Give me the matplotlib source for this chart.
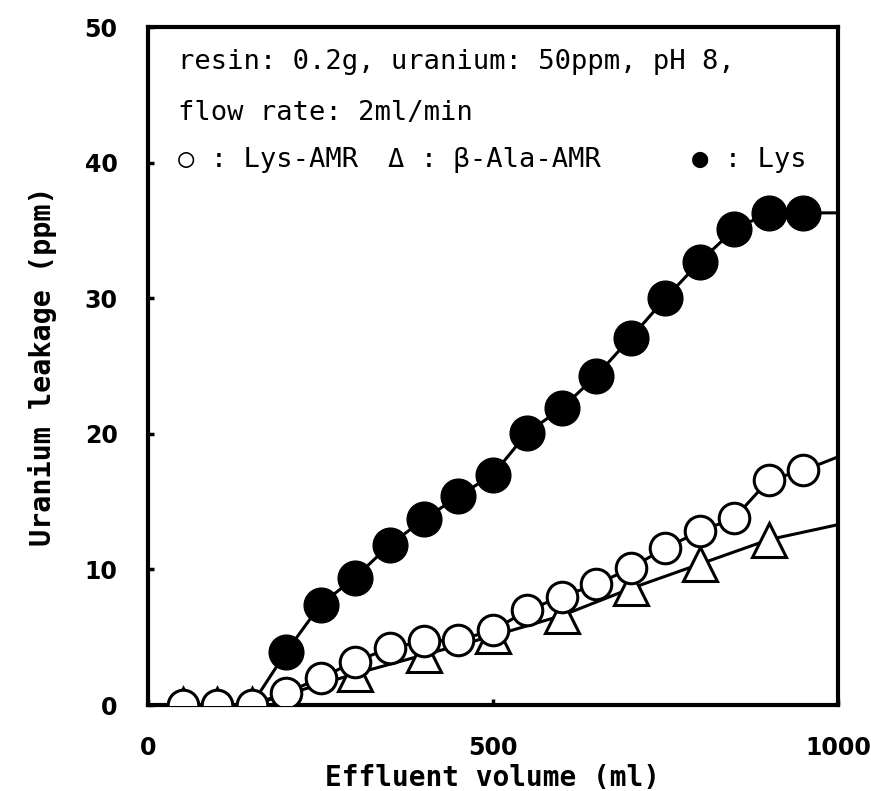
import matplotlib
matplotlib.use("Agg")
from matplotlib import pyplot as plt

# Lys (filled circles)
lys_x = [200, 250, 300, 350, 400, 450, 500, 550, 600, 650, 700, 750, 800, 850, 900, 950]
lys_y = [3.9, 7.4, 9.4, 11.8, 13.7, 15.4, 17.0, 20.1, 21.9, 24.3, 27.1, 30.0, 32.7, 35.1, 36.3, 36.3]
lys_curve_x = [150] + lys_x + [1000]
lys_curve_y = [0.0] + lys_y + [36.3]

# Lys-AMR (open circles)
amr_x = [50, 100, 150, 200, 250, 300, 350, 400, 450, 500, 550, 600, 650, 700, 750, 800, 850, 900, 950]
amr_y = [0.0, 0.0, 0.0, 0.9, 2.0, 3.2, 4.2, 4.7, 4.8, 5.5, 7.0, 8.0, 8.9, 10.1, 11.6, 12.8, 13.8, 16.6, 17.3]
amr_curve_x = amr_x + [1000]
amr_curve_y = amr_y + [18.3]

# beta-Ala-AMR (open triangles)
ala_x = [50, 100, 150, 300, 400, 500, 600, 700, 800, 900]
ala_y = [0.0, 0.0, 0.0, 2.3, 3.7, 5.1, 6.6, 8.6, 10.4, 12.2]
ala_curve_x = [150, 300, 400, 500, 600, 700, 800, 900, 1000]
ala_curve_y = [0.0, 2.3, 3.7, 5.1, 6.6, 8.6, 10.4, 12.2, 13.3]

x_ticks = [0, 500, 1000]
y_ticks = [0, 10, 20, 30, 40, 50]

MONO = ["DejaVu Sans Mono", "DejaVu Sans"]

fig = plt.figure(figsize=(8.71, 7.91), dpi=100)
ax = fig.add_axes([0.170, 0.1087, 0.792, 0.857])

lw = 2.2
ax.plot(ala_curve_x, ala_curve_y, color="black", lw=lw, zorder=1)
ax.plot(amr_curve_x, amr_curve_y, color="black", lw=lw, zorder=1)
ax.plot(lys_curve_x, lys_curve_y, color="black", lw=lw, zorder=1)

ax.plot(ala_x, ala_y, ls="none", marker="^", ms=25, mfc="white", mec="black", mew=2.2, zorder=2)
ax.plot(amr_x, amr_y, ls="none", marker="o", ms=22, mfc="white", mec="black", mew=2.2, zorder=3)
ax.plot(lys_x, lys_y, ls="none", marker="o", ms=25, mfc="black", mec="black", mew=1, zorder=4)

ax.set_xlim(0, 1000)
ax.set_ylim(0, 50)
ax.set_xticks(x_ticks)
ax.set_yticks(y_ticks)
ax.tick_params(direction="in", length=4, width=2.5, pad=22, labelsize=17)
for lab in ax.get_xticklabels() + ax.get_yticklabels():
    lab.set_fontweight("bold")
for s in ax.spines.values():
    s.set_linewidth(3)

ax.set_xlabel("Effluent volume (ml)", family=MONO, fontsize=20, fontweight="bold", labelpad=3)
ax.set_ylabel("Uranium leakage (ppm)", family=MONO, fontsize=20.5, fontweight="bold", labelpad=20)

ax.text(43, 47.4, "resin: 0.2g, uranium: 50ppm, pH 8,", family=MONO, fontsize=19.5, va="center")
ax.text(43, 43.7, "flow rate: 2ml/min", family=MONO, fontsize=19.5, va="center")
ax.text(43, 40.2, "○ : Lys-AMR", family=MONO, fontsize=19.5, va="center")
ax.text(348, 40.2, "Δ : β-Ala-AMR", family=MONO, fontsize=19.5, va="center")
ax.text(788, 40.2, "● : Lys", family=MONO, fontsize=19.5, va="center")

fig.savefig("out.png", dpi=100)
